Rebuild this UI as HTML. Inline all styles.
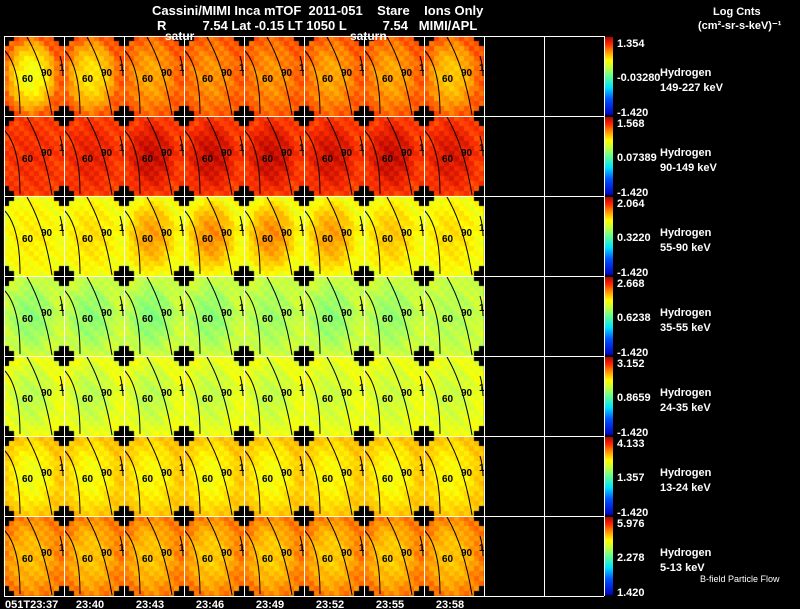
<!DOCTYPE html>
<html><head><meta charset="utf-8"><style>
body{margin:0;background:#000;width:800px;height:609px;overflow:hidden;position:relative;font-family:"Liberation Sans",sans-serif;color:#fff}
canvas,svg{position:absolute;left:0;top:0}
text{white-space:pre}
</style></head><body>
<canvas id="hm" width="800" height="609"></canvas>
<svg id="ov" width="800" height="609" font-family="Liberation Sans, sans-serif" fill="#fff">
<defs><linearGradient id="cb" x1="0" y1="1" x2="0" y2="0">
<stop offset="0" stop-color="#0000c0"/><stop offset="0.2" stop-color="#0050ff"/><stop offset="0.35" stop-color="#00e0ff"/><stop offset="0.5" stop-color="#60ff90"/><stop offset="0.62" stop-color="#d0ff30"/><stop offset="0.7" stop-color="#ffff00"/><stop offset="0.8" stop-color="#ffa000"/><stop offset="0.9" stop-color="#ff3000"/><stop offset="1" stop-color="#b00000"/></linearGradient></defs>
<text x="152" y="15" font-size="13" font-weight="bold">Cassini/MIMI Inca mTOF  2011-051    Stare    Ions Only</text>
<text x="157" y="30" font-size="13" font-weight="bold">R          7.54 Lat -0.15 LT 1050 L          7.54   MIMI/APL</text>
<text x="165" y="40" font-size="12" font-weight="bold">satur</text>
<text x="350" y="40" font-size="12" font-weight="bold">saturn</text>
<text x="713" y="15" font-size="11" font-weight="bold">Log Cnts</text>
<text x="698" y="29" font-size="11" font-weight="bold">(cm²-sr-s-keV)⁻¹</text>
<text x="700" y="582" font-size="9">B-field Particle Flow</text>
<g id="g"></g>
</svg>
<script>
const rowEdge=[0.86,0.89,0.67,0.62,0.66,0.75,0.83];
const rowCenters=[
[0.66,0.71,0.79,0.81,0.81,0.79,0.79,0.75],
[0.91,0.93,0.97,0.97,0.97,0.96,0.97,0.95],
[0.7,0.72,0.8,0.82,0.82,0.8,0.75,0.72],
[0.55,0.55,0.54,0.55,0.57,0.55,0.56,0.59],
[0.6,0.6,0.6,0.61,0.61,0.62,0.62,0.62],
[0.66,0.67,0.68,0.67,0.67,0.68,0.67,0.68],
[0.76,0.75,0.75,0.74,0.74,0.74,0.74,0.75]];
const cbTop=["1.354","1.568","2.064","2.668","3.152","4.133","5.976"];
const cbMid=["-0.03280","0.07389","0.3220","0.6238","0.8659","1.357","2.278"];
const cbBot=["-1.420","-1.420","-1.420","-1.420","-1.420","-1.420","1.420"];
const energies=["149-227 keV","90-149 keV","55-90 keV","35-55 keV","24-35 keV","13-24 keV","5-13 keV"];
const timeLabels=["051T23:37","23:40","23:43","23:46","23:49","23:52","23:55","23:58"];
const X0=4,Y0=36,CW=60,RH=80;
const stops=[[0,[0,0,192]],[.2,[0,80,255]],[.35,[0,224,255]],[.5,[96,255,144]],[.6,[190,255,80]],[.68,[255,255,0]],[.8,[255,160,0]],[.9,[255,48,0]],[1,[176,0,0]]];
function cmap(t){t=Math.max(0,Math.min(1,t));for(let k=1;k<stops.length;k++){if(t<=stops[k][0]){const a=stops[k-1],b=stops[k],f=(t-a[0])/(b[0]-a[0]);return 'rgb('+a[1].map((v,i)=>Math.round(v+(b[1][i]-v)*f)).join(',')+')';}}return 'rgb(176,0,0)';}
const ctx=document.getElementById('hm').getContext('2d');
for(let r=0;r<7;r++)for(let c=0;c<8;c++){
 for(let i=0;i<12;i++)for(let j=0;j<16;j++){
  const ci=Math.min(i,11-i),cj=Math.min(j,15-j);
  if((ci<2&&cj<1)||(ci<1&&cj<2)){ctx.fillStyle='#000';}
  else{const dx=(i-5)/6,dy=(j-7.5)/8;const b=Math.max(0,1-(dx*dx*1.2+dy*dy));
   const n=((i*7+j*13+c*5+r*3)%5-2)*0.012;
   ctx.fillStyle=cmap(rowEdge[r]+(rowCenters[r][c]-rowEdge[r])*b+n);}
  ctx.fillRect(X0+c*CW+i*5,Y0+r*RH+j*5,5,5);
 }
}
const g=document.getElementById('g');const NS='http://www.w3.org/2000/svg';
function el(t,a,txt){const e=document.createElementNS(NS,t);for(const k in a)e.setAttribute(k,a[k]);if(txt!==undefined)e.textContent=txt;g.appendChild(e);return e;}
for(let r=0;r<7;r++)for(let c=0;c<8;c++){
 const x=X0+c*CW,y=Y0+r*RH;
 let p=el('path',{d:`M${x},${y+14} Q${x+16},${y+30} ${x+16},${y+78}`,fill:'none',stroke:'#000','stroke-width':1});
 
 p=el('path',{d:`M${x+23},${y+1} Q${x+40},${y+30} ${x+48},${y+79}`,fill:'none',stroke:'#000','stroke-width':1});
 
 p=el('path',{d:`M${x+56},${y+20} Q${x+59},${y+30} ${x+59},${y+40}`,fill:'none',stroke:'#000','stroke-width':1});
 
 let t=el('text',{x:x+18,y:y+46,'font-size':10,'font-weight':'bold',fill:'#000'},'60');
 
 t=el('text',{x:x+37,y:y+40,'font-size':10,'font-weight':'bold',fill:'#000'},'90');
 
 t=el('text',{x:x+55,y:y+35,'font-size':10,'font-weight':'bold',fill:'#000'},'1');
 
}
for(let k=0;k<=10;k++){const l=el('line',{x1:X0+k*CW+0.5,y1:Y0,x2:X0+k*CW+0.5,y2:Y0+7*RH,stroke:'#fff','stroke-width':1});
 }
for(let k=0;k<=7;k++){const l=el('line',{x1:X0,y1:Y0+k*RH+0.5,x2:X0+10*CW,y2:Y0+k*RH+0.5,stroke:'#fff','stroke-width':1});
 }
for(let r=0;r<7;r++){const y=Y0+r*RH;
 let e=el('rect',{x:605,y:y+1,width:8,height:78,fill:'url(#cb)'});
 
 e=el('text',{x:617,y:y+11,'font-size':11,'font-weight':'bold'},cbTop[r]);
 
 e=el('text',{x:617,y:y+45,'font-size':11,'font-weight':'bold'},cbMid[r]);
 
 e=el('text',{x:617,y:y+80,'font-size':11,'font-weight':'bold'},cbBot[r]);
 
 e=el('text',{x:660,y:y+40,'font-size':11,'font-weight':'bold'},'Hydrogen');
 
 e=el('text',{x:660,y:y+55,'font-size':11,'font-weight':'bold'},energies[r]);
 
}
for(let c=0;c<8;c++){const e=el('text',{x:c===0?5:X0+c*CW+26,y:608,'font-size':11,'font-weight':'bold','text-anchor':c===0?'start':'middle'},timeLabels[c]);
 }
</script>
</body></html>
